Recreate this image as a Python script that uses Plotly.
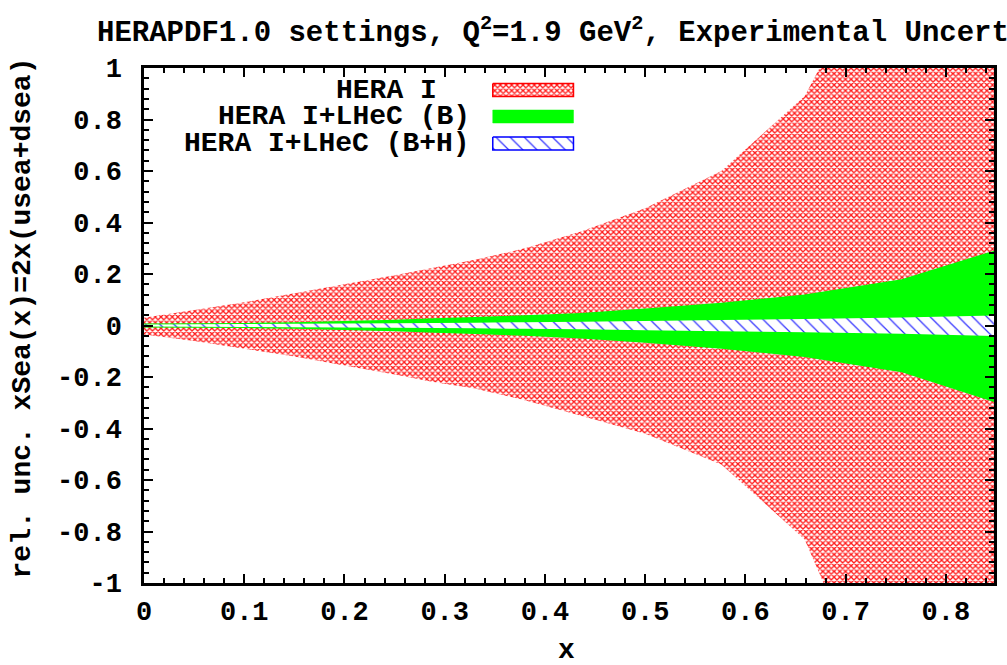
import plotly.graph_objects as go

# ---------------- data ----------------
x_nodes = [0.0, 0.05, 0.10, 0.15, 0.20, 0.25, 0.29, 0.33, 0.38, 0.436, 0.50, 0.576, 0.659, 0.756, 0.85]

hera1_up = [0.030, 0.060, 0.090, 0.125, 0.160, 0.195, 0.225, 0.255, 0.300, 0.365, 0.455, 0.600, 0.890, 1.600, 2.500]
hera1_lo = [-0.035, -0.060, -0.090, -0.120, -0.155, -0.190, -0.220, -0.245, -0.290, -0.350, -0.420, -0.540, -0.830, -1.700, -2.500]

lhecB_up = [0.008, 0.009, 0.010, 0.013, 0.017, 0.022, 0.028, 0.033, 0.040, 0.049, 0.066, 0.088, 0.120, 0.180, 0.293]
lhecB_lo = [-0.008, -0.009, -0.010, -0.013, -0.017, -0.022, -0.028, -0.033, -0.040, -0.050, -0.067, -0.090, -0.122, -0.182, -0.300]

lhecBH_up = [0.004, 0.005, 0.006, 0.007, 0.008, 0.009, 0.010, 0.011, 0.013, 0.015, 0.017, 0.021, 0.025, 0.031, 0.039]
lhecBH_lo = [-0.004, -0.005, -0.006, -0.007, -0.008, -0.009, -0.010, -0.011, -0.013, -0.015, -0.018, -0.022, -0.026, -0.032, -0.041]

series_names = ["HERA I", "HERA I+LHeC (B)", "HERA I+LHeC (B+H)"]

x_tick_vals = [0, 0.1, 0.2, 0.3, 0.4, 0.5, 0.6, 0.7, 0.8]
x_tick_text = ["0", "0.1", "0.2", "0.3", "0.4", "0.5", "0.6", "0.7", "0.8"]
y_tick_vals = [1, 0.8, 0.6, 0.4, 0.2, 0, -0.2, -0.4, -0.6, -0.8, -1]
y_tick_text = ["1", "0.8", "0.6", "0.4", "0.2", "0", "-0.2", "-0.4", "-0.6", "-0.8", "-1"]

title_text = "HERAPDF1.0 settings, Q<sup>2</sup>=1.9 GeV<sup>2</sup>, Experimental Uncertainties"
y_title = "rel. unc. xSea(x)=2x(usea+dsea)"
x_title = "x"

# ---------------- styling ----------------
W, H = 1007, 665
ML, MR, MT, MB = 144, 10, 68, 82
FONT = "Liberation Mono"
FS = 28

red_pattern = dict(shape="x", fgcolor="#ff1a1a", bgcolor="#ffffff", size=4, solidity=0.55, fillmode="replace")
blue_pattern = dict(shape="\\", fgcolor="#3030ff", bgcolor="#ffffff", size=10, solidity=0.12, fillmode="replace")
green = "#00ff00"


def band(up, lo):
    return x_nodes + x_nodes[::-1], up + lo[::-1]


fig = go.Figure()

bx, by = band(hera1_up, hera1_lo)
fig.add_trace(go.Scatter(x=bx, y=by, fill="toself", mode="none", fillcolor="#ffffff",
                         fillpattern=red_pattern, name=series_names[0], showlegend=False,
                         hoverinfo="skip"))
bx, by = band(lhecB_up, lhecB_lo)
fig.add_trace(go.Scatter(x=bx, y=by, fill="toself", mode="none", fillcolor=green,
                         name=series_names[1], showlegend=False, hoverinfo="skip"))
bx, by = band(lhecBH_up, lhecBH_lo)
fig.add_trace(go.Scatter(x=bx, y=by, fill="toself", mode="none", fillcolor="#ffffff",
                         fillpattern=blue_pattern, name=series_names[2], showlegend=False,
                         hoverinfo="skip"))

# ---------------- manual legend (gnuplot style: text right-aligned, swatch to right) ----------------
leg_rows_y = [90, 116.5, 143.5]
leg_text_right = [440, 473, 473]
sw_x0, sw_x1, sw_h = 494, 575, 13
swatch_styles = [
    dict(fillcolor="#ffffff", fillpattern=red_pattern, line=dict(color="#ff0000", width=1.5)),
    dict(fillcolor=green, line=dict(color=green, width=0.5)),
    dict(fillcolor="#ffffff", fillpattern=blue_pattern, line=dict(color="#0000ff", width=1.5)),
]
for i, yc in enumerate(leg_rows_y):
    st = swatch_styles[i]
    fig.add_trace(go.Scatter(
        x=[sw_x0, sw_x1, sw_x1, sw_x0, sw_x0],
        y=[yc - sw_h / 2, yc - sw_h / 2, yc + sw_h / 2, yc + sw_h / 2, yc - sw_h / 2],
        fill="toself", mode="lines", xaxis="x2", yaxis="y2", showlegend=False,
        hoverinfo="skip", **st))
    fig.add_annotation(x=leg_text_right[i], y=yc, xref="x2", yref="y2", text=series_names[i],
                       showarrow=False, xanchor="right", yanchor="middle",
                       font=dict(family=FONT, size=FS, color="black", weight="bold"))

axis_common = dict(
    showline=True, linecolor="black", linewidth=2.5, mirror="allticks",
    ticks="inside", ticklen=9, tickwidth=2, tickcolor="black",
    showgrid=False, zeroline=False,
    tickfont=dict(family=FONT, size=FS - 1, color="black", weight="bold"),
)

fig.update_layout(
    width=W, height=H,
    margin=dict(l=ML, r=MR, t=MT, b=MB),
    paper_bgcolor="white", plot_bgcolor="white",
    showlegend=False,
    title=dict(text=title_text, x=97 / W, xanchor="left", xref="container",
               y=1 - 31 / H, yanchor="middle", yref="container",
               font=dict(family=FONT, size=FS + 1, color="black", weight="bold")),
    xaxis=dict(range=[0, 0.848], tickvals=x_tick_vals, ticktext=x_tick_text,
               minor=dict(ticks="inside", dtick=0.02, ticklen=5, tickwidth=1.5, tickcolor="black"),
               ticklabelstandoff=2, **axis_common),
    yaxis=dict(range=[-1, 1], tickvals=y_tick_vals, ticktext=y_tick_text,
               minor=dict(ticks="inside", dtick=0.04, ticklen=5, tickwidth=1.5, tickcolor="black"),
               ticklabelstandoff=14, **axis_common),
    xaxis2=dict(overlaying="x", range=[ML, W - MR], visible=False, showgrid=False, zeroline=False),
    yaxis2=dict(overlaying="y", range=[H - MB, MT], visible=False, showgrid=False, zeroline=False),
)

fig.add_annotation(text=y_title, xref="paper", yref="paper", x=(22 - ML) / (W - ML - MR),
                   y=(H - MB - 318) / (H - MB - MT), textangle=-90, showarrow=False,
                   xanchor="center", yanchor="middle",
                   font=dict(family=FONT, size=FS, color="black", weight="bold"))
fig.add_annotation(text=x_title, xref="paper", yref="paper", x=(568 - ML) / (W - ML - MR),
                   y=(H - MB - 650) / (H - MB - MT), showarrow=False,
                   xanchor="center", yanchor="middle",
                   font=dict(family=FONT, size=FS, color="black", weight="bold"))

fig.write_html("out.html")
